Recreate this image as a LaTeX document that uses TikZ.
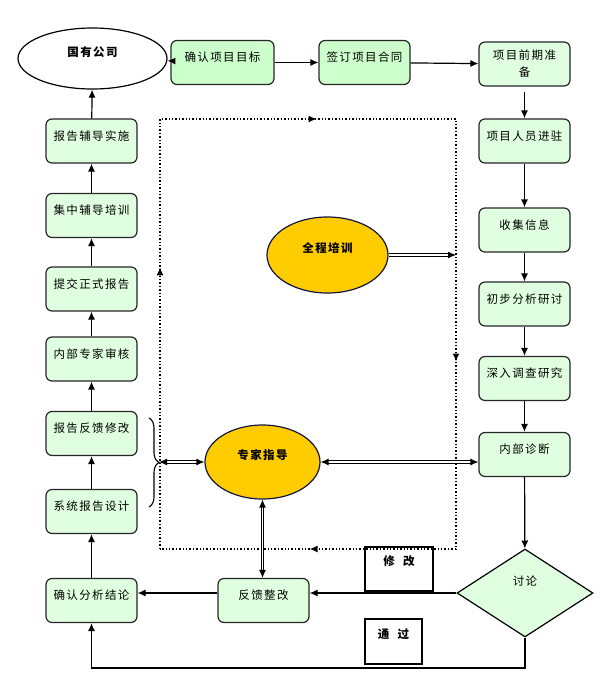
\documentclass[tikz,border=0pt]{standalone}
\usepackage{fontspec}
\usetikzlibrary{arrows.meta,shapes.geometric,decorations.pathreplacing,decorations.markings}
\newfontfamily\hei[LetterSpace=12]{Noto Sans CJK SC}
\definecolor{boxgreen}{RGB}{224,255,224}
\definecolor{topgreen}{RGB}{204,255,204}
\definecolor{gold}{RGB}{255,204,0}
\definecolor{navy}{RGB}{20,20,70}

\begin{document}
\begin{tikzpicture}[x=1pt,y=-1pt,>={Latex[length=8pt,width=7pt]},line width=1.2pt,
    font=\hei\fontsize{11.5}{14}\selectfont,
    stage/.style={draw=black!85,rounded corners=6pt,fill=boxgreen,minimum width=91pt,
      minimum height=44pt,inner sep=2pt,text height=7pt,text depth=9pt},
    blob/.style={ellipse,draw=navy,fill=gold,inner sep=0pt,font=\hei\bfseries\fontsize{11.5}{14}\selectfont,
      text height=7pt,text depth=13pt},
    note/.style={draw,inner sep=0pt,font=\hei\bfseries\fontsize{11.5}{14}\selectfont,
      text height=7pt,text depth=14pt},
    dbl/.style={double,double distance=1.5pt,line width=1pt}]
  \useasboundingbox (0,0) rectangle (600,683);

  % top row
  \node[ellipse,draw,minimum width=149pt,minimum height=61pt,inner sep=0pt,
    font=\hei\bfseries\fontsize{11.5}{14}\selectfont,text height=7pt,text depth=12pt]
    (gy) at (92.5,58.5) {国有公司};
  \node[stage,fill=topgreen,minimum width=103pt] (mb) at (222.5,62.5) {确认项目目标};
  \node[stage,fill=topgreen] (ht) at (364.5,62.5) {签订项目合同};
  \node[stage,text height=,text depth=,align=center] (zb) at (524.5,64) {项目前期准\\[3pt]备};

  % right column
  \foreach \n/\y/\t in {ry/141/项目人员进驻, sj/230/收集信息, cb/304/初步分析研讨,
      sr/378.5/深入调查研究, zd/454.5/内部诊断}
    \node[stage] (\n) at (524.5,\y) {\t};
  \node[diamond,draw,fill=boxgreen,minimum width=136pt,minimum height=88pt,inner sep=0pt,
    text height=7pt,text depth=22pt] (tl) at (525,593) {讨论};

  % left column
  \foreach \n/\y/\t in {bs/141/报告辅导实施, jz/215.5/集中辅导培训, tj/289/提交正式报告,
      nb/359/内部专家审核, fx/433.5/报告反馈修改, xt/511.5/系统报告设计, qr/600.5/确认分析结论}
    \node[stage] (\n) at (91.5,\y) {\t};
  \node[stage] (fk) at (263.5,600.5) {反馈整改};

  % middle
  \node[blob,minimum width=121pt,minimum height=76pt] (qc) at (327.5,255) {全程培训};
  \node[blob,minimum width=115pt,minimum height=74pt] (zj) at (262.5,462) {专家指导};
  \node[note,minimum width=68pt,minimum height=44pt] (xg) at (399,569) {修\ \ 改};
  \node[note,minimum width=57pt,minimum height=45pt] (tg) at (393.5,641.5) {通\ \ 过};

  % dotted loop
  \draw[dotted,line width=1.4pt,postaction={decorate},decoration={markings,
      mark=at position 0.194 with {\arrow{Latex[length=8pt,width=7pt]}},
      mark=at position 0.404 with {\arrow{Latex[length=8pt,width=7pt]}},
      mark=at position 0.667 with {\arrow{Latex[length=8pt,width=7pt]}},
      mark=at position 0.897 with {\arrow{Latex[length=8pt,width=7pt]}}}]
    (160,549) -- (160,119) -- (456,119) -- (456,549) -- cycle;
  \coordinate (qcend) at (456,253);
  \draw[decorate,decoration={brace,amplitude=10pt},line width=1.1pt] (149,418) -- (149,507);
  \coordinate (bt) at (159,462);

  % flow
  \draw[->] (bs) -- (gy);
  \draw[->] (mb) -- (gy);
  \draw[->] (mb) -- (ht);
  \draw[->] (ht) -- (zb);
  \draw[->,shorten <=5pt] (zb) -- (ry);
  \foreach \a/\b in {ry/sj, sj/cb, cb/sr, sr/zd, zd/tl}
    \draw[->] (\a) -- (\b);
  \draw[->] (tl.west) -- (tl.west -| fk.east);
  \draw[->] (tl.west -| fk.west) -- (tl.west -| qr.east);
  \draw[->] (tl.south) -- (525,668) -| (qr.south);
  \foreach \a/\b in {qr/xt, xt/fx, fx/nb, nb/tj, tj/jz, jz/bs}
    \draw[->] (\a) -- (\b);

  % double links
  \draw[dbl,->] (qc.east) -- (qc.east -| qcend);
  \draw[dbl,<->] (bt) -- (zj.west);
  \draw[dbl,<->] (zj.east) -- (zj.east -| zd.west);
  \draw[dbl,<->] (zj.south) -- (zj.south |- fk.north);
\end{tikzpicture}
\end{document}
